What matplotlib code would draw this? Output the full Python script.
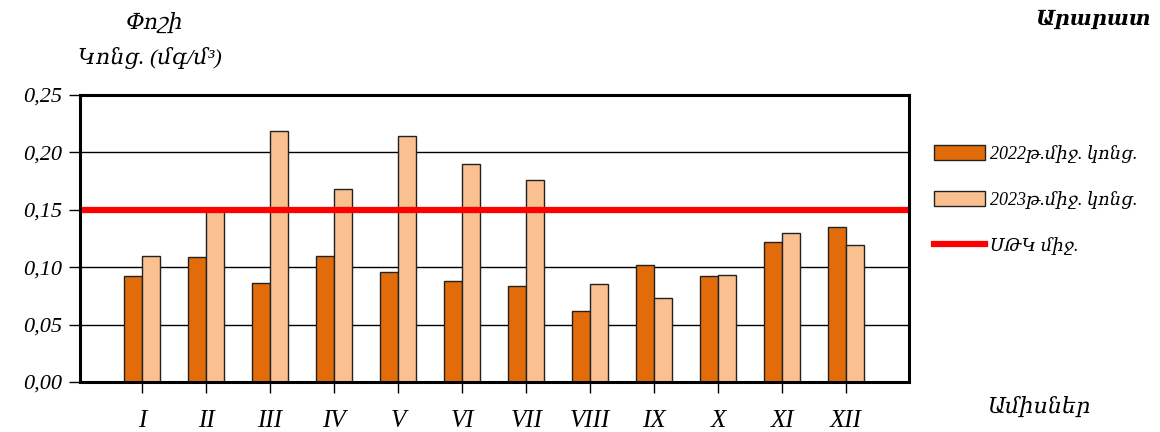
import numpy as np
import matplotlib
matplotlib.use("Agg")
import matplotlib.pyplot as plt
from matplotlib.patches import Patch
from matplotlib.lines import Line2D

# Данные
months = ["I", "II", "III", "IV", "V", "VI", "VII", "VIII", "IX", "X", "XI", "XII"]
conc_2022 = [0.092, 0.109, 0.086, 0.110, 0.096, 0.088, 0.084, 0.062, 0.102, 0.092, 0.122, 0.135]
conc_2023 = [0.110, 0.149, 0.219, 0.168, 0.214, 0.190, 0.176, 0.085, 0.073, 0.093, 0.130, 0.119]
limit_value = 0.15
y_ticks = [0.00, 0.05, 0.10, 0.15, 0.20, 0.25]

label_2022 = "2022թ.միջ. կոնց."
label_2023 = "2023թ.միջ. կոնց."
label_limit = "ՍԹԿ միջ."

FONT = ["Liberation Serif", "DejaVu Serif"]
plt.rcParams["font.family"] = FONT

fig = plt.figure(figsize=(11.6, 4.32), dpi=100)
ax = fig.add_axes([80 / 1160, 1 - 382 / 432, 829 / 1160, 287 / 432])

x = np.arange(len(months))
w = 0.28
ax.bar(x - w / 2, conc_2022, w, color="#E36C0A", edgecolor="#222222", linewidth=1.0, zorder=3)
ax.bar(x + w / 2, conc_2023, w, color="#FAC090", edgecolor="#222222", linewidth=1.0, zorder=3)
ax.axhline(limit_value, color="#FF0000", linewidth=4.5, zorder=4)

ax.set_ylim(0, 0.25)
ax.set_xlim(-0.97, 11.98)
ax.set_yticks(y_ticks)
ax.set_yticklabels([f"{v:.2f}".replace(".", ",") for v in y_ticks],
                   fontsize=16, style="italic")
ax.set_xticks(x)
ax.set_xticklabels(months, fontsize=18, style="italic")
ax.tick_params(axis="x", length=8, width=1, pad=12)
ax.tick_params(axis="y", length=8, width=1, pad=5)
ax.grid(axis="y", color="black", linewidth=1.0, zorder=1)
for s in ax.spines.values():
    s.set_linewidth(2.2)
    s.set_zorder(5)

fig.text(155 / 1160, 1 - 23 / 432, "Փոշի", ha="center", va="center",
         fontsize=16, style="italic")
fig.text(150 / 1160, 1 - 58 / 432, "Կոնց. (մգ/մ³)", ha="center", va="center",
         fontsize=16, style="italic")
fig.text(1152 / 1160, 1 - 20 / 432, "Արարատ", ha="right", va="center",
         fontsize=15, style="italic", fontweight="bold")
fig.text(1040 / 1160, 1 - 407 / 432, "Ամիսներ", ha="center", va="center",
         fontsize=16, style="italic")

handles = [
    Patch(facecolor="#E36C0A", edgecolor="#222222", linewidth=1.0),
    Patch(facecolor="#FAC090", edgecolor="#222222", linewidth=1.0),
    Line2D([0], [0], color="#FF0000", linewidth=4.5),
]
fig.legend(handles, [label_2022, label_2023, label_limit],
           loc="upper left", bbox_to_anchor=(925 / 1160, 1 - 136 / 432),
           frameon=False, prop={"size": 13, "style": "italic"},
           handlelength=2.8, handleheight=0.9, labelspacing=1.55,
           handletextpad=0.3, borderpad=0)

fig.savefig("out.png", dpi=100)
